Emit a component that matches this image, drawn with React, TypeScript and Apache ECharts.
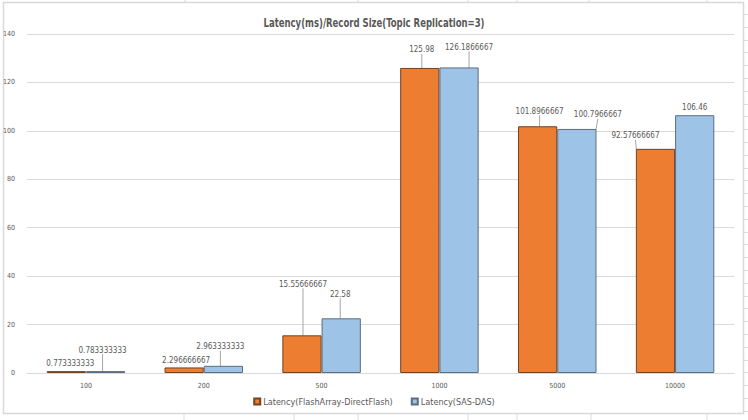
import React, { useEffect, useRef } from "react";
import * as echarts from "echarts";

const categories = ["100", "200", "500", "1000", "5000", "10000"];
const flashArray = [0.773333333, 2.296666667, 15.55666667, 125.98, 101.8966667, 92.57666667];
const sasDas = [0.783333333, 2.963333333, 22.58, 126.1866667, 100.7966667, 106.46];
const seriesNames = ["Latency(FlashArray-DirectFlash)", "Latency(SAS-DAS)"];
const titleText = "Latency(ms)/Record Size(Topic Replication=3)";
const yTicks = { min: 0, max: 140, interval: 20 };

// label offsets (dx, dy) from default top position, per series/category
const labelShift = [
  [[4, 1], [2, 2], [1, -42], [2, -9], [2, -6], [-20, -4]],
  [[-3, -12], [-3, -10], [-1, -15], [10, -11], [21, -5], [0, 1]],
];
const showGuide = [
  [false, false, true, true, true, true],
  [true, true, true, true, true, false],
];

const FONT = "'DejaVu Sans Condensed', 'Liberation Sans', sans-serif";
const TXT = "#595959";

export default function App() {
  const ref = useRef<HTMLDivElement>(null);
  useEffect(() => {
    document.body.style.margin = "0";
    const chart = echarts.init(ref.current!, null, { renderer: "svg" });
    const mk = (vals: number[], si: number) =>
      vals.map((v, i) => ({ value: v, labelLine: { show: showGuide[si][i] } }));
    const outside: any[] = [];
    [184, 294, 358, 468, 517, 591, 707].forEach((x) =>
      outside.push({ type: "line", shape: { x1: x, y1: 414, x2: x, y2: 420 }, style: { stroke: "#dcdcdc", lineWidth: 1 } })
    );
    [185, 358, 468, 517, 589, 707].forEach((x) =>
      outside.push({ type: "line", shape: { x1: x, y1: 0, x2: x, y2: 2 }, style: { stroke: "#dcdcdc", lineWidth: 1 } })
    );
    for (let y = 14; y < 412; y += 12.8) {
      outside.push({ type: "line", shape: { x1: 744, y1: Math.round(y) + 0.5, x2: 748, y2: Math.round(y) + 0.5 }, style: { stroke: "#dcdcdc", lineWidth: 1 } });
    }
    chart.setOption({
      animation: false,
      backgroundColor: "#ffffff",
      graphic: [
        {
          type: "rect",
          shape: { x: 3.5, y: 2.5, width: 740, height: 411 },
          style: { fill: "none", stroke: "#d9d9d9", lineWidth: 1.5 },
          z: -1,
        },
        {
          type: "text",
          x: 374,
          y: 23,
          scaleX: 0.79,
          style: {
            text: titleText,
            fontFamily: FONT,
            fontSize: 12,
            fontWeight: "bold",
            fill: TXT,
            align: "center",
            verticalAlign: "middle",
          },
        },
        ...outside,
      ],
      legend: {
        bottom: 9,
        left: "center",
        itemWidth: 6,
        itemHeight: 6,
        itemGap: 18,
        icon: "rect",
        textStyle: { fontFamily: FONT, fontSize: 9, color: TXT, padding: [0, 0, 0, -2] },
        data: seriesNames,
      },
      grid: { left: 27, right: 14, top: 34, bottom: 47, containLabel: false },
      xAxis: {
        type: "category",
        data: categories,
        axisLine: { lineStyle: { color: "#d9d9d9" } },
        axisTick: { show: false },
        axisLabel: { fontFamily: FONT, fontSize: 7, color: TXT, margin: 9 },
      },
      yAxis: {
        type: "value",
        min: yTicks.min,
        max: yTicks.max,
        interval: yTicks.interval,
        axisLine: { show: false },
        axisTick: { show: false },
        splitLine: { lineStyle: { color: "#d9d9d9" } },
        axisLabel: { fontFamily: FONT, fontSize: 7, color: TXT, margin: 12 },
      },
      series: [0, 1].map((si) => ({
        name: seriesNames[si],
        type: "bar",
        data: mk(si === 0 ? flashArray : sasDas, si),
        barGap: "0%",
        barCategoryGap: "33.4%",
        itemStyle: {
          color: si === 0 ? "#ED7D31" : "#9DC3E6",
          borderColor: si === 0 ? "#6e4326" : "#5d6d7e",
          borderWidth: 1,
        },
        label: {
          show: true,
          position: "top",
          distance: 5,
          fontFamily: FONT,
          fontSize: 8,
          color: TXT,
        },
        labelLine: { show: true, lineStyle: { color: "#a6a6a6", width: 1 } },
        labelLayout: (p: any) => {
          const s = labelShift[p.seriesIndex][p.dataIndex];
          return { dx: s[0], dy: s[1] };
        },
      })),
    });
    return () => chart.dispose();
  }, []);
  return <div ref={ref} style={{ position: "fixed", left: 0, top: 0, width: 748, height: 420 }} />;
}
